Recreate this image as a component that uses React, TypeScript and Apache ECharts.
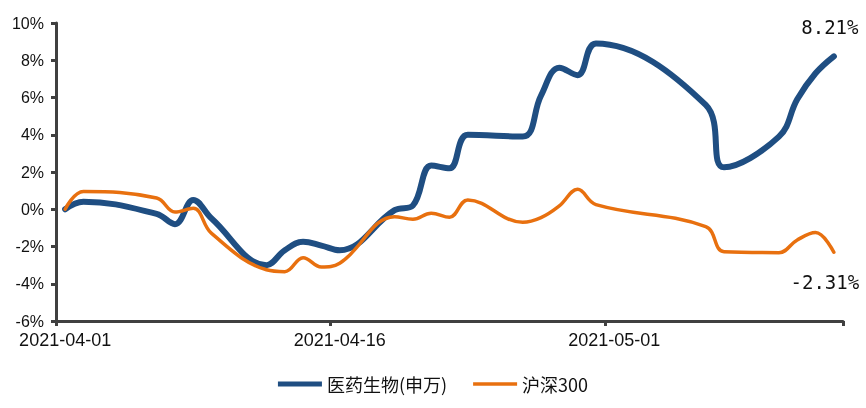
import React, { useEffect, useRef } from "react";
import * as echarts from "echarts";

const firstDay = "2021-04-01";
const lastDay = "2021-05-13";
const tradingDays = [
  "2021-04-01", "2021-04-02", "2021-04-06", "2021-04-07", "2021-04-08", "2021-04-09",
  "2021-04-12", "2021-04-13", "2021-04-14", "2021-04-15", "2021-04-16",
  "2021-04-19", "2021-04-20", "2021-04-21", "2021-04-22", "2021-04-23",
  "2021-04-26", "2021-04-27", "2021-04-28", "2021-04-29", "2021-04-30",
  "2021-05-06", "2021-05-07",
  "2021-05-10", "2021-05-11", "2021-05-12", "2021-05-13",
];
const pharmaName = "医药生物(申万)";
const pharma = [
  0, 0.4, -0.25, -0.8, 0.5, -0.5,
  -3.0, -2.2, -1.75, -1.95, -2.2,
  -0.05, 0.2, 2.35, 2.2, 4.0,
  3.9, 6.1, 7.6, 7.2, 8.9,
  5.6, 2.25,
  3.9, 5.9, 7.3, 8.21,
];
const hs300Name = "沪深300";
const hs300 = [
  0, 0.95, 0.6, -0.15, 0.05, -1.3,
  -3.25, -3.35, -2.6, -3.1, -2.9,
  -0.4, -0.54, -0.21, -0.43, 0.5,
  -0.7, -0.45, 0.18, 1.07, 0.25,
  -0.93, -2.28,
  -2.33, -1.65, -1.25, -2.31,
];
const yTicks = { min: -6, max: 10, interval: 2 };

function calendarDays(from: string, to: string): string[] {
  const out: string[] = [];
  const d = new Date(from + "T00:00:00Z");
  const end = new Date(to + "T00:00:00Z");
  while (d.getTime() <= end.getTime()) {
    out.push(d.toISOString().slice(0, 10));
    d.setUTCDate(d.getUTCDate() + 1);
  }
  return out;
}

const BLUE = "#1f4e82";
const ORANGE = "#e8700f";
const AXIS = "#404040";

function pairs(values: number[]) {
  return values.map((v, i) => [tradingDays[i], v]);
}

export default function App() {
  const ref = useRef<HTMLDivElement>(null);
  useEffect(() => {
    if (!ref.current) return;
    const chart = echarts.init(ref.current, undefined, { renderer: "svg" });
    const cats = calendarDays(firstDay, lastDay);
    const labelFont = {
      fontFamily: "DejaVu Sans Mono",
      fontSize: 19,
      color: "#111",
    };
    const endFmt = (p: any) => `${Number(p.value[1]).toFixed(2)}%`;
    chart.setOption({
      animation: false,
      grid: { left: 56, right: 23, top: 23, bottom: 87, containLabel: false },
      legend: {
        top: 370,
        left: "center",
        itemWidth: 44,
        itemHeight: 5,
        itemGap: 26,
        textStyle: { fontFamily: "Noto Sans CJK SC", fontSize: 18, color: "#111" },
        data: [
          { name: pharmaName, icon: "path://M0,0H44V5H0Z" },
          { name: hs300Name, icon: "path://M0,0L0,0M44,5L44,5M0,0.8H44V4.2H0Z" },
        ],
      },
      xAxis: {
        type: "category",
        data: cats,
        boundaryGap: true,
        axisLine: { onZero: false, lineStyle: { color: AXIS, width: 3 } },
        axisTick: {
          show: true,
          interval: (i: number) => i % 15 === 0,
          length: 5,
          lineStyle: { color: AXIS, width: 3 },
        },
        axisLabel: {
          interval: 14,
          margin: 10,
          fontFamily: "Liberation Sans",
          fontSize: 18,
          color: "#111",
        },
        splitLine: { show: false },
      },
      yAxis: {
        type: "value",
        min: yTicks.min,
        max: yTicks.max,
        interval: yTicks.interval,
        axisLine: { show: true, lineStyle: { color: AXIS, width: 3 } },
        axisTick: { show: true, length: 5, lineStyle: { color: AXIS, width: 3 } },
        axisLabel: {
          formatter: (v: number) => `${v}%`,
          margin: 12,
          fontFamily: "Liberation Sans",
          fontSize: 16,
          color: "#111",
        },
        splitLine: { show: false },
      },
      series: [
        {
          name: pharmaName,
          type: "line",
          smooth: 0.4,
          showSymbol: false,
          symbol: "none",
          lineStyle: { color: BLUE, width: 6, cap: "round", join: "round" },
          itemStyle: { color: BLUE },
          endLabel: {
            show: true,
            formatter: endFmt,
            distance: 0,
            align: "center",
            verticalAlign: "bottom",
            offset: [-4, -20],
            ...labelFont,
          },
          data: pairs(pharma),
        },
        {
          name: hs300Name,
          type: "line",
          smooth: 0.4,
          showSymbol: false,
          symbol: "none",
          lineStyle: { color: ORANGE, width: 3.5, cap: "round", join: "round" },
          itemStyle: { color: ORANGE },
          endLabel: {
            show: true,
            formatter: endFmt,
            distance: 0,
            align: "center",
            verticalAlign: "top",
            offset: [-9, 20],
            ...labelFont,
          },
          data: pairs(hs300),
        },
      ],
    });
    return () => chart.dispose();
  }, []);
  return (
    <div
      ref={ref}
      style={{ position: "fixed", left: 0, top: 0, width: 866, height: 408 }}
    />
  );
}
